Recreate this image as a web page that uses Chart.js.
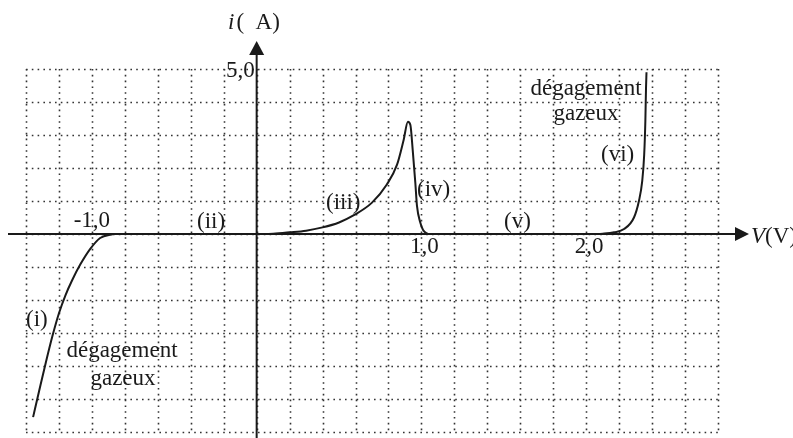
<!DOCTYPE html>
<html>
<head>
<meta charset="utf-8">
<script src="https://cdn.jsdelivr.net/npm/chart.js@4"></script>
<style>
  html, body { margin: 0; padding: 0; background: #fff; }
  #wrap { width: 793px; height: 438px; }
</style>
</head>
<body>
<div id="wrap"><canvas id="c" width="793" height="438"></canvas></div>
<script>
// ---- data ----
const curveI_V   = [-1.357, -1.32, -1.28, -1.24, -1.20, -1.16, -1.12, -1.07, -1.01, -0.95, -0.87];
const curveI_i   = [-5.55, -4.75, -3.9, -3.1, -2.4, -1.85, -1.4, -0.92, -0.45, -0.12, 0];

const curveIII_V = [0, 0.1, 0.2, 0.3, 0.4, 0.5, 0.59, 0.7, 0.79, 0.852, 0.892, 0.918, 0.933, 0.947, 0.963, 0.973, 0.993, 1.01, 1.04];
const curveIII_i = [0, 0.01, 0.05, 0.1, 0.2, 0.35, 0.57, 0.95, 1.5, 2.1, 2.85, 3.4, 3.3, 2.55, 1.55, 0.85, 0.35, 0.12, 0];

const curveVI_V  = [2.04, 2.1, 2.17, 2.23, 2.29, 2.32, 2.34, 2.352, 2.359, 2.363, 2.366];
const curveVI_i  = [0, 0.01, 0.05, 0.15, 0.5, 1.0, 1.6, 2.4, 3.4, 4.4, 4.9];

const xMin = -1.4, xMax = 2.8, xStep = 0.2;
const yMin = -6, yMax = 5, yStep = 1;

// tick / annotation labels
const xTickLabels = [["-1,0", -1.0], ["1,0", 1.0], ["2,0", 2.0]];
const yTickLabels = [["5,0", 5.0]];
const regionLabels = ["(i)", "(ii)", "(iii)", "(iv)", "(v)", "(vi)"];
const gasText = ["dégagement", "gazeux"];

function pts(xs, ys) { return xs.map((x, k) => ({ x: x, y: ys[k] })); }

const FONT = '"Liberation Serif", "Times New Roman", serif';
const INK = '#1a1a1a';

const decor = {
  id: 'decor',
  beforeDatasetsDraw(chart) {
    const ctx = chart.ctx;
    const xs = chart.scales.x, ys = chart.scales.y;
    const a = chart.chartArea;
    ctx.save();
    ctx.strokeStyle = '#333';
    ctx.lineWidth = 1.6;
    ctx.setLineDash([1.6, 4.2]);
    xs.ticks.forEach(t => {
      const px = Math.round(xs.getPixelForValue(t.value)) + 0.5;
      ctx.beginPath(); ctx.moveTo(px, a.top); ctx.lineTo(px, a.bottom); ctx.stroke();
    });
    ys.ticks.forEach(t => {
      const py = Math.round(ys.getPixelForValue(t.value)) + 0.5;
      ctx.beginPath(); ctx.moveTo(a.left, py); ctx.lineTo(a.right, py); ctx.stroke();
    });
    ctx.setLineDash([]);

    // axes
    const x0 = xs.getPixelForValue(0), y0 = ys.getPixelForValue(0);
    ctx.strokeStyle = INK;
    ctx.fillStyle = INK;
    ctx.lineWidth = 2;
    ctx.beginPath(); ctx.moveTo(8, y0); ctx.lineTo(740, y0); ctx.stroke();
    ctx.beginPath(); ctx.moveTo(x0, 438); ctx.lineTo(x0, 52); ctx.stroke();
    // arrows
    ctx.beginPath(); ctx.moveTo(749, y0); ctx.lineTo(735, y0 - 7); ctx.lineTo(735, y0 + 7); ctx.closePath(); ctx.fill();
    ctx.beginPath(); ctx.moveTo(x0, 41); ctx.lineTo(x0 - 7.5, 55); ctx.lineTo(x0 + 7.5, 55); ctx.closePath(); ctx.fill();

    // texts
    ctx.font = '23px ' + FONT;
    ctx.textBaseline = 'alphabetic';
    ctx.textAlign = 'center';
    xTickLabels.forEach(([s, v]) => {
      const px = xs.getPixelForValue(v);
      if (v < 0) ctx.fillText(s, px, y0 - 7);
      else ctx.fillText(s, px + 3, y0 + 19);
    });
    ctx.textAlign = 'right';
    yTickLabels.forEach(([s, v]) => {
      ctx.fillText(s, x0 - 2, ys.getPixelForValue(v) + 8);
    });
    ctx.textAlign = 'left';
    // region labels
    const regPos = [[26, 326], [197, 228], [326, 209], [417, 196], [504, 228], [601, 161]];
    regionLabels.forEach((s, k) => ctx.fillText(s, regPos[k][0], regPos[k][1]));
    ctx.textAlign = 'center';
    ctx.fillText(gasText[0], 122, 357);
    ctx.fillText(gasText[1], 123, 385);
    ctx.fillText(gasText[0], 586, 95);
    ctx.fillText(gasText[1], 586, 120);

    // axis titles
    ctx.textAlign = 'left';
    ctx.font = 'italic 23px ' + FONT;
    ctx.fillText('i', 228, 29);
    let w = ctx.measureText('i').width;
    ctx.font = '23px ' + FONT;
    ctx.fillText('(  A)', 228 + w + 2, 29);
    ctx.font = 'italic 23px ' + FONT;
    ctx.fillText('V', 751, y0 + 9);
    w = ctx.measureText('V').width;
    ctx.font = '23px ' + FONT;
    ctx.fillText('(V)', 751 + w, y0 + 9);
    ctx.restore();
  }
};

const lineStyle = {
  showLine: true, pointRadius: 0, borderColor: INK, borderWidth: 2,
  cubicInterpolationMode: 'monotone', fill: false
};

new Chart(document.getElementById('c'), {
  type: 'scatter',
  data: {
    datasets: [
      Object.assign({ label: '(i)', data: pts(curveI_V, curveI_i) }, lineStyle),
      Object.assign({ label: '(iii)-(iv)', data: pts(curveIII_V, curveIII_i) }, lineStyle),
      Object.assign({ label: '(vi)', data: pts(curveVI_V, curveVI_i) }, lineStyle)
    ]
  },
  options: {
    responsive: false,
    animation: false,
    devicePixelRatio: 1,
    layout: { padding: { left: 26, right: 75, top: 69, bottom: 6 } },
    plugins: { legend: { display: false }, tooltip: { enabled: false } },
    scales: {
      x: {
        type: 'linear', min: xMin, max: xMax,
        ticks: { stepSize: xStep, display: false },
        grid: { display: false, drawTicks: false }, border: { display: false }
      },
      y: {
        type: 'linear', min: yMin, max: yMax,
        ticks: { stepSize: yStep, display: false },
        grid: { display: false, drawTicks: false }, border: { display: false }
      }
    }
  },
  plugins: [decor]
});
</script>
</body>
</html>
